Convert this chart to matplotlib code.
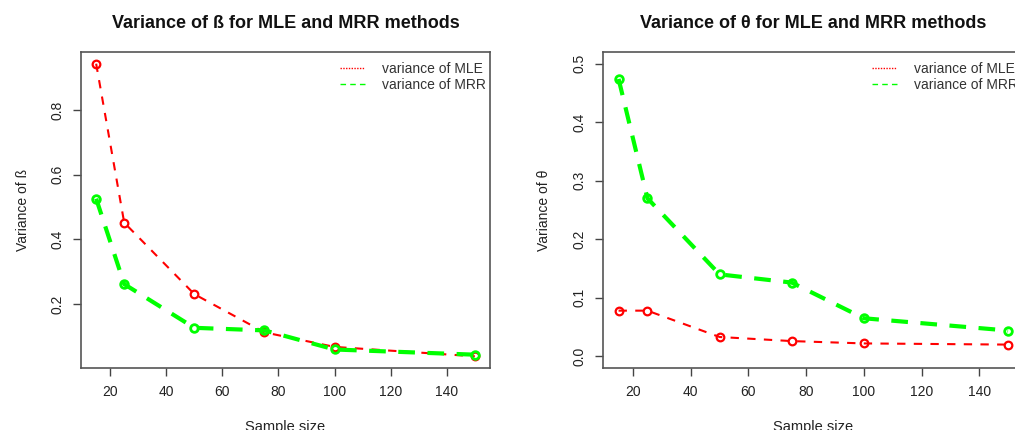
import numpy as np
import matplotlib
matplotlib.use("Agg")
import matplotlib.pyplot as plt
from matplotlib.lines import Line2D

plt.rcParams['font.family'] = ['Liberation Sans', 'DejaVu Sans']

# sample sizes
sample_size = [15, 25, 50, 75, 100, 150]

# variance of beta
beta_mle = [0.943, 0.452, 0.231, 0.113, 0.068, 0.039]
beta_mrr = [0.526, 0.262, 0.127, 0.119, 0.060, 0.044]

# variance of theta
theta_mle = [0.078, 0.078, 0.033, 0.026, 0.022, 0.020]
theta_mrr = [0.474, 0.270, 0.140, 0.126, 0.065, 0.044]

titles = ["Variance of ß for MLE and MRR methods",
          "Variance of θ for MLE and MRR methods"]
ylabels = ["Variance of ß", "Variance of θ"]
legend_labels = ["variance of MLE", "variance of MRR"]

RED = "#FF0000"
GREEN = "#00FF00"
TXT = "#222222"
W, H = 1015, 430


def r_lim(lo, hi):
    pad = (hi - lo) * 0.04
    return lo - pad, hi + pad


fig = plt.figure(figsize=(W / 100, H / 100), dpi=100)

# axes boxes in pixel coords: left, right, top, bottom
boxes = [(81, 490, 52, 368), (603, 1023.7, 52, 368)]
legend_x = [340, 872]
ylims = [r_lim(min(beta_mle), max(beta_mle)), r_lim(0, 0.5)]
yticks = [[0.2, 0.4, 0.6, 0.8], [0.0, 0.1, 0.2, 0.3, 0.4, 0.5]]
data = [(beta_mle, beta_mrr), (theta_mle, theta_mrr)]

for i in range(2):
    l, r, t, b = boxes[i]
    ax = fig.add_axes([l / W, 1 - b / H, (r - l) / W, (b - t) / H])
    mle, mrr = data[i]

    ax.plot(sample_size, mle, color=RED, lw=1.5, ls=(0, (4, 4)),
            marker='o', ms=5.5, mfc='none', mew=1.6)
    ax.plot(sample_size, mrr, color=GREEN, lw=3, ls=(0, (4, 3)),
            marker='o', ms=5.5, mfc='none', mew=2.0)

    ax.set_xlim(r_lim(15, 150))
    ax.set_ylim(ylims[i])
    ax.set_xticks([20, 40, 60, 80, 100, 120, 140])
    ax.set_yticks(yticks[i])
    ax.set_yticklabels([f"{v:.1f}" for v in yticks[i]], rotation=90, va='center')

    ax.tick_params(length=6, width=1, color="#444444", labelcolor=TXT,
                   labelsize=10, pad=6)
    for s in ax.spines.values():
        s.set_color("#555555")
        s.set_linewidth(1.2)

    ax.set_title(titles[i], fontsize=13, fontweight='bold', color="#111111", pad=17)
    ax.set_xlabel("Sample size", fontsize=10.5, color=TXT, labelpad=15)
    ax.set_ylabel(ylabels[i], fontsize=10, color=TXT, labelpad=15)

    handles = [Line2D([], [], color=RED, lw=1.0, ls=(0, (1, 1))),
               Line2D([], [], color=GREEN, lw=1.0, ls=(0, (4, 3)))]
    ax.legend(handles, legend_labels, loc='upper left',
              bbox_to_anchor=((legend_x[i] - l) / (r - l), 1 - 10 / (b - t)),
              frameon=False, fontsize=10, handlelength=1.8, handletextpad=1.2,
              labelspacing=0.15, borderaxespad=0, borderpad=0,
              labelcolor="#333333")

fig.savefig("out.png", dpi=100)
